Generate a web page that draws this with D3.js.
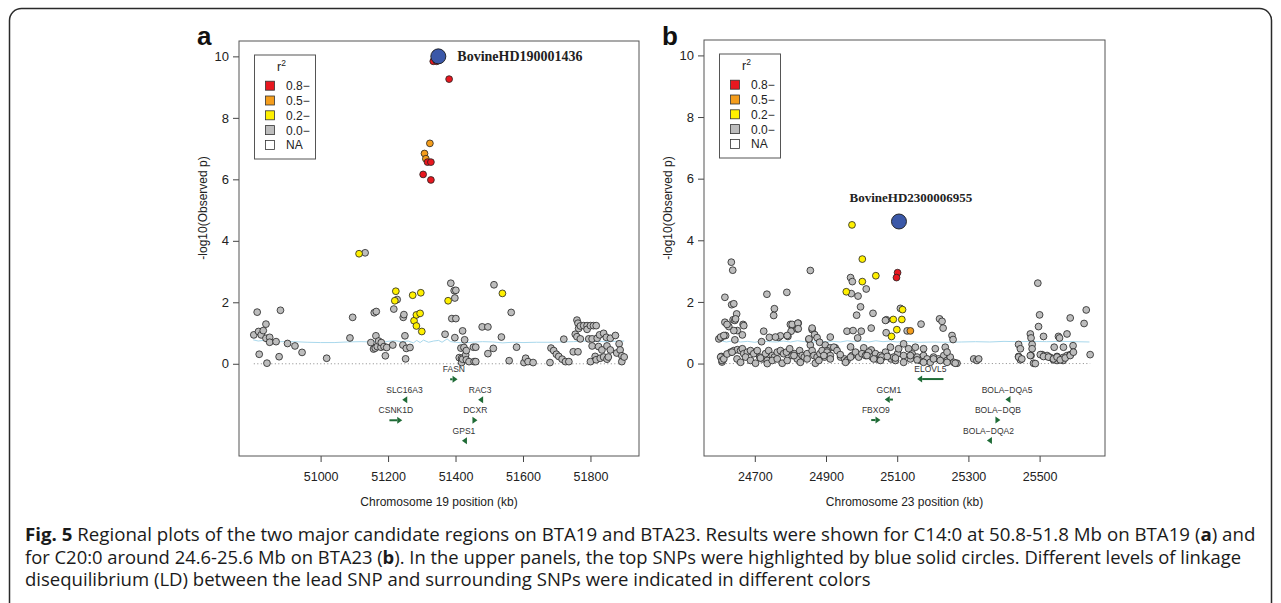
<!DOCTYPE html>
<html>
<head>
<meta charset="utf-8">
<script src="https://cdn.jsdelivr.net/npm/d3@7"></script>
<style>
  body { margin: 0; background: #fff; }
  svg { display: block; font-family: "Liberation Sans", Arial, sans-serif; }
</style>
</head>
<body>
<svg id="fig" width="1281" height="603"></svg>
<script>
// ---- panel a : BTA19, C14:0 ----  [position kb, -log10 p]
const aGray = [[50802,0.94],[50812,1.68],[50816,1.05],[50818,0.31],[50824,0.94],[50830,1.08],[50838,1.29],[50838,0.83],[50841,0.02],[50849,0.86],[50849,0.70],[50868,0.72],[50877,0.23],[50881,1.74],[50902,0.66],[50924,0.58],[50945,0.37],[51018,0.18],[51087,0.84],[51095,1.51],[51132,3.61],[51149,0.69],[51157,0.48],[51159,1.66],[51162,0.51],[51164,0.91],[51165,1.70],[51168,0.56],[51172,0.74],[51179,0.54],[51180,0.69],[51188,0.56],[51192,0.26],[51196,0.53],[51214,0.61],[51217,1.78],[51227,2.09],[51244,0.61],[51245,1.51],[51247,1.60],[51250,0.91],[51252,0.16],[51254,0.50],[51265,0.53],[51369,0.96],[51386,2.62],[51389,1.47],[51396,2.38],[51398,2.14],[51398,0.85],[51401,2.39],[51401,1.47],[51411,0.20],[51416,0.51],[51418,0.18],[51418,0.04],[51421,1.07],[51421,0.15],[51425,0.53],[51427,0.78],[51430,0.29],[51432,0.43],[51432,0.13],[51440,0.07],[51453,0.54],[51455,0.07],[51460,0.54],[51460,0.07],[51479,1.20],[51496,1.20],[51496,0.33],[51512,0.50],[51514,2.57],[51536,0.87],[51559,0.10],[51565,1.67],[51581,0.54],[51603,0.04],[51608,0.18],[51615,0.07],[51630,0.04],[51680,0.04],[51683,0.51],[51691,0.43],[51699,0.31],[51706,0.24],[51716,0.15],[51721,0.80],[51726,0.07],[51736,0.07],[51749,0.39],[51755,0.96],[51760,1.42],[51760,0.88],[51763,1.32],[51763,0.39],[51765,1.15],[51770,1.23],[51770,0.81],[51780,1.24],[51790,1.24],[51790,1.12],[51795,0.81],[51800,1.24],[51800,0.07],[51805,0.81],[51805,0.58],[51809,1.24],[51814,0.24],[51817,1.24],[51817,0.13],[51820,0.83],[51824,0.56],[51827,0.94],[51829,0.18],[51834,0.45],[51839,0.99],[51839,0.22],[51847,0.86],[51849,0.58],[51849,0.15],[51853,0.22],[51859,0.83],[51859,0.45],[51874,0.92],[51878,0.35],[51885,0.65],[51888,0.45],[51893,0.26],[51893,0.07],[51900,0.22]];
const aYellow = [[51114,3.58],[51220,2.05],[51223,2.36],[51273,2.23],[51277,1.40],[51284,1.59],[51284,1.23],[51295,1.64],[51297,2.31],[51300,1.05],[51378,2.05],[51539,2.29]];
const aOrange = [[51324,7.17],[51308,6.84],[51312,6.67]];
const aRed = [[51334,9.84],[51344,9.84],[51381,9.26],[51317,6.56],[51327,6.56],[51304,6.16],[51327,5.98]];
const aLead = [51349, 10.0];
const aLeadName = "BovineHD190001436";
const aRecomb = [[50800,0.78],[50815,0.74],[50830,0.76],[50850,0.73],[50880,0.72],[50920,0.72],[50960,0.70],[51000,0.69],[51040,0.69],[51080,0.71],[51120,0.72],[51150,0.71],[51170,0.74],[51185,0.70],[51200,0.73],[51220,0.75],[51240,0.72],[51260,0.74],[51275,0.68],[51285,0.76],[51295,0.69],[51305,0.77],[51320,0.70],[51335,0.74],[51350,0.76],[51360,0.70],[51375,0.81],[51385,0.72],[51400,0.70],[51420,0.68],[51450,0.70],[51480,0.72],[51510,0.71],[51540,0.68],[51570,0.70],[51600,0.69],[51640,0.70],[51680,0.70],[51720,0.71],[51750,0.72],[51780,0.74],[51810,0.73],[51840,0.72],[51870,0.73],[51900,0.74]];
// gene: name, start kb, end kb, strand, row
const aGenes = [["FASN",51384,51406,1,0],["SLC16A3",51242,51255,-1,1],["RAC3",51467,51479,-1,1],["CSNK1D",51204,51242,1,2],["DCXR",51452,51465,1,2],["GPS1",51419,51431,-1,3]];
const aXTicks = [51000, 51200, 51400, 51600, 51800];

// ---- panel b : BTA23, C20:0 ----
const bGray = [[24634,3.29],[24638,3.03],[24856,3.02],[24969,2.79],[24974,2.66],[24734,2.25],[24790,2.31],[24616,2.15],[24971,2.27],[24990,2.19],[25013,2.42],[24997,1.84],[25032,1.63],[24986,1.57],[24635,1.91],[24641,1.94],[24649,1.61],[24755,1.78],[24753,1.56],[25109,1.79],[25070,1.42],[25069,1.00],[25128,1.06],[25167,1.28],[25219,1.45],[25226,1.37],[25229,1.15],[25254,0.91],[25257,0.78],[25495,2.61],[25500,1.58],[25497,1.20],[25586,1.48],[25631,1.74],[25625,1.30],[25577,0.96],[25553,0.88],[25556,0.83],[25511,0.88],[25474,0.96],[25476,0.83],[25479,0.62],[25479,0.48],[25476,0.26],[25441,0.62],[25446,0.48],[25441,0.23],[25446,0.12],[25483,0.01],[25507,0.29],[25521,0.26],[25530,0.20],[25539,0.12],[25549,0.10],[25558,0.15],[25567,0.20],[25577,0.26],[25586,0.29],[25566,0.10],[25549,0.23],[25541,0.53],[25567,0.53],[25594,0.58],[25642,0.29],[25315,0.15],[25324,0.10],[25329,0.15],
  [24616,1.34],[24639,1.42],[24644,1.40],[24667,1.27],[24651,1.07],[24644,0.77],[24618,0.91],[24606,0.85],[24599,0.80],[24627,1.20],[24725,1.05],[24741,0.85],[24767,0.85],[24772,0.90],[24719,0.71],[24800,1.27],[24809,1.23],[24822,1.31],[24802,1.05],[24793,0.88],[24819,1.12],[24861,1.10],[24868,0.94],[24852,0.78],[24856,0.60],[24875,0.84],[24882,0.69],[24898,0.60],[24912,0.51],[24926,0.51],[24903,0.42],[24959,1.05],[24976,1.07],[24999,1.05],[24989,0.83],[25027,1.15],[25006,0.51],[25027,0.44],[24969,0.54],[25067,1.40],
  [24604,0.86],[24613,0.91],[24641,1.07],[24669,1.23],[24622,1.27],[24646,1.45],[24665,0.93],[24758,0.86],[24791,0.91],[24805,1.27],[24821,1.31],[24822,1.13],[24852,0.80],[24861,1.15],[24912,0.86],
  [24606,0.23],[24611,0.15],[24608,0.05],[24632,0.37],[24641,0.42],[24651,0.45],[24660,0.42],[24665,0.48],[24669,0.32],[24679,0.37],[24688,0.42],[24697,0.32],[24707,0.42],[24714,0.21],[24721,0.15],[24730,0.32],[24735,0.10],[24739,0.42],[24749,0.26],[24755,0.21],[24763,0.37],[24772,0.42],[24781,0.32],[24789,0.37],[24798,0.48],[24805,0.26],[24811,0.32],[24819,0.15],[24826,0.42],[24833,0.26],[24839,0.21],[24847,0.32],[24861,0.42],[24866,0.26],[24875,0.21],[24883,0.32],[24889,0.42],[24896,0.21],[24903,0.37],[24912,0.26],[24922,0.53],[24931,0.42],[24941,0.21],[24952,0.15],[24959,0.10],[24973,0.26],[24983,0.37],[24992,0.21],[25001,0.32],[25011,0.26],[25020,0.37],[25029,0.21],[25039,0.32],[25043,0.15],[25053,0.21],[25060,0.21],[25071,0.26],[25083,0.15],[25095,0.10],[25101,0.32],
  [25104,0.48],[25118,0.64],[25132,0.48],[25142,0.31],[25156,0.21],[25165,0.10],[25174,0.26],[25184,0.15],[25193,0.04],[25202,0.21],[25216,0.15],[25231,0.26],[25240,0.10],[25249,0.21],[25259,0.04],[25268,0.01],[25118,0.26],[25137,0.15],[25151,0.53],[25174,0.48],[25207,0.48],[25235,0.53],[25240,0.37],[25090,0.21],[25081,0.53],[25067,0.37],[25053,0.26],[25057,0.21],
  [24604,0.21],[24608,0.10],[24613,0.15],[24622,0.31],[24636,0.37],[24650,0.15],[24660,0.04],[24674,0.21],[24688,0.10],[24702,0.01],[24716,0.18],[24735,0.00],[24749,0.10],[24763,0.15],[24777,0.01],[24791,0.10],[24810,0.26],[24828,0.04],[24847,0.15],[24870,0.01],[24880,0.10],[24894,0.26],[24912,0.15],[24940,0.29],[24955,0.04],[24969,0.21],[25015,0.26],[25034,0.15],[25053,0.10],[25072,0.23],[25095,0.18],[25118,0.04],[25137,0.26],[25156,0.12],[25174,0.04],[25202,0.15],[25221,0.10],[25240,0.04],[25263,0.01],
  [25441,0.21],[25450,0.15],[25474,0.26],[25488,0.00],[25502,0.29],[25511,0.23],[25525,0.21],[25539,0.15],[25549,0.21],[25558,0.12],[25572,0.18],[25586,0.26],[25595,0.37]];
const bYellow = [[24973,4.50],[25002,3.39],[25040,2.85],[25002,2.66],[24957,2.33],[25115,1.75],[25089,1.43],[25113,1.43],[25099,1.10],[25084,0.88]];
const bOrange = [[25137,1.06]];
const bRed = [[25101,2.95],[25098,2.79]];
const bLead = [25105, 4.61];
const bLeadName = "BovineHD2300006955";
const bRecomb = [[24600,0.75],[24620,0.70],[24640,0.74],[24660,0.70],[24680,0.72],[24700,0.69],[24720,0.73],[24740,0.71],[24760,0.70],[24780,0.73],[24800,0.70],[24820,0.74],[24840,0.71],[24860,0.69],[24880,0.73],[24900,0.70],[24920,0.72],[24940,0.70],[24960,0.74],[24980,0.71],[25000,0.73],[25020,0.70],[25040,0.74],[25060,0.71],[25080,0.73],[25100,0.70],[25120,0.72],[25140,0.71],[25160,0.69],[25200,0.70],[25240,0.69],[25280,0.70],[25320,0.71],[25360,0.70],[25400,0.72],[25440,0.71],[25480,0.72],[25520,0.71],[25560,0.72],[25600,0.71],[25640,0.70]];
const bGenes = [["ELOVL5",25156,25230,-1,0],["GCM1",25065,25088,-1,1],["BOLA\u2212DQA5",25404,25413,-1,1],["FBXO9",25027,25053,1,2],["BOLA\u2212DQB",25376,25390,1,2],["BOLA\u2212DQA2",25352,25361,-1,3]];
const bXTicks = [24700, 24900, 25100, 25300, 25500];

const yTicks = [0, 2, 4, 6, 8, 10];
const legendLabels = ["0.8\u2212", "0.5\u2212", "0.2\u2212", "0.0\u2212", "NA"];
const legendColors = ["#e8171f", "#f49d1c", "#fff000", "#bdbdbd", "#ffffff"];

const captionLines = [
  [["Fig. 5", 1], [" Regional plots of the two major candidate regions on BTA19 and BTA23. Results were shown for C14:0 at 50.8-51.8 Mb on BTA19 (", 0], ["a", 1], [") and", 0]],
  [["for C20:0 around 24.6-25.6 Mb on BTA23 (", 0], ["b", 1], ["). In the upper panels, the top SNPs were highlighted by blue solid circles. Different levels of linkage", 0]],
  [["disequilibrium (LD) between the lead SNP and surrounding SNPs were indicated in different colors", 0]]
];

const svg = d3.select("#fig");
svg.append("rect").attr("width", 1281).attr("height", 603).attr("fill", "#fff");
svg.append("rect").attr("x", 9.5).attr("y", 8.5).attr("width", 1262).attr("height", 640)
  .attr("rx", 12).attr("fill", "none").attr("stroke", "#2a2a2a").attr("stroke-width", 1.5);

function drawPanel(p) {
  const g = svg.append("g");
  const all = [...p.gray, ...p.yellow, ...p.orange, ...p.red, p.lead];
  const ext = d3.extent(all, d => d[0]);
  const pad = (ext[1] - ext[0]) * 0.04;
  const x = d3.scaleLinear().domain([ext[0] - pad, ext[1] + pad]).range([p.left, p.right]);
  const y = d3.scaleLinear().domain([-3, 10.5]).range([456, p.top]);

  // x axis (ticks only, R style)
  const xa = g.append("g").attr("transform", "translate(0,456)")
    .call(d3.axisBottom(x).tickValues(p.xTicks).tickSize(6).tickPadding(10).tickFormat(d3.format("d")));
  xa.select(".domain").remove();
  xa.selectAll("line").attr("stroke", "#444");
  xa.selectAll("text").attr("font-size", 12.5).attr("fill", "#222");

  const ya = g.append("g").attr("transform", `translate(${p.left},0)`)
    .call(d3.axisLeft(y).tickValues(yTicks).tickSize(6).tickPadding(4));
  ya.select(".domain").remove();
  ya.selectAll("line").attr("stroke", "#444");
  ya.selectAll("text").attr("font-size", 13).attr("fill", "#222");
  xa.attr("font-family", null); ya.attr("font-family", null);

  g.append("text").attr("x", (p.left + p.right) / 2).attr("y", 506).attr("text-anchor", "middle")
    .attr("font-size", 12).attr("fill", "#222").text(p.xTitle);
  g.append("text").attr("transform", `translate(${p.left - 32},208) rotate(-90)`).attr("text-anchor", "middle")
    .attr("font-size", 12).attr("fill", "#222").text("-log10(Observed p)");
  g.append("text").attr("x", p.left - 42).attr("y", 45).attr("font-size", 26).attr("font-weight", 700)
    .attr("fill", "#111").text(p.letter);

  // zero reference line
  g.append("line").attr("x1", x(ext[0])).attr("x2", x(ext[1])).attr("y1", y(0)).attr("y2", y(0))
    .attr("stroke", "#888").attr("stroke-width", 1).attr("stroke-dasharray", "1,2.5");

  // recombination-like light blue trace
  g.append("path").datum(p.recomb)
    .attr("d", d3.line().x(d => x(d[0])).y(d => y(d[1])))
    .attr("fill", "none").attr("stroke", "#a9d8ec").attr("stroke-width", 1);

  const layers = [[p.gray, legendColors[3]], [p.yellow, legendColors[2]], [p.orange, legendColors[1]], [p.red, legendColors[0]]];
  layers.forEach(([pts, col]) => {
    g.append("g").selectAll("circle").data(pts).join("circle")
      .attr("cx", d => x(d[0])).attr("cy", d => y(d[1])).attr("r", 3.4)
      .attr("fill", col).attr("stroke", "#222").attr("stroke-width", 0.8);
  });
  g.append("circle").attr("cx", x(p.lead[0])).attr("cy", y(p.lead[1])).attr("r", 7.5)
    .attr("fill", "#3b58a8").attr("stroke", "#1a1a1a").attr("stroke-width", 0.9);

  const lx = x(p.lead[0]), ly = y(p.lead[1]);
  const lab = g.append("text").attr("font-family", "'Liberation Serif', 'Times New Roman', serif")
    .attr("font-weight", 700).attr("fill", "#222").text(p.leadName);
  if (p.labelSide === "right") lab.attr("font-size", 14).attr("x", lx + 19).attr("y", ly + 4.5);
  else lab.attr("font-size", 13).attr("x", lx + 12).attr("y", ly - 19).attr("text-anchor", "middle");

  // genes
  const gg = g.append("g");
  p.genes.forEach(([name, s, e, strand, row]) => {
    const ay = y(0) + 15.5 + row * 20.5;
    const x1 = x(s), x2 = x(e);
    gg.append("text").attr("x", (x1 + x2) / 2).attr("y", ay - 7).attr("text-anchor", "middle")
      .attr("font-size", 8.5).attr("fill", "#333").text(name);
    const tip = strand > 0 ? x2 : x1;
    const base = tip - strand * 5;
    const tail = strand > 0 ? x1 : x2;
    if (Math.abs(tail - tip) > 5) {
      gg.append("line").attr("x1", tail).attr("x2", base).attr("y1", ay).attr("y2", ay)
        .attr("stroke", "#1f6b36").attr("stroke-width", 2);
    }
    gg.append("path").attr("d", `M${tip},${ay}L${base},${ay - 3.5}L${base},${ay + 3.5}Z`).attr("fill", "#1f6b36");
  });

  // frame
  g.append("rect").attr("x", p.left).attr("y", p.top).attr("width", p.right - p.left).attr("height", 456 - p.top)
    .attr("fill", "none").attr("stroke", "#555").attr("stroke-width", 1);

  // legend
  const lg = g.append("g").attr("transform", `translate(${p.left + 15.5},${p.top + 14})`);
  lg.append("rect").attr("width", 61).attr("height", 104).attr("fill", "#fff").attr("stroke", "#555");
  const tt = lg.append("text").attr("x", 27).attr("y", 16).attr("font-size", 12.5).attr("fill", "#222").attr("text-anchor", "middle");
  tt.append("tspan").text("r");
  tt.append("tspan").attr("dy", -5).attr("font-size", 8.5).text("2");
  legendLabels.forEach((t, i) => {
    const ry = 30.7 + i * 14.8;
    lg.append("rect").attr("x", 11).attr("y", ry - 4.5).attr("width", 9).attr("height", 9)
      .attr("fill", legendColors[i]).attr("stroke", "#333").attr("stroke-width", 0.8);
    lg.append("text").attr("x", 31.5).attr("y", ry + 4.5).attr("font-size", 12).attr("fill", "#222").text(t);
  });
}

drawPanel({ left: 239, right: 639, top: 41, gray: aGray, yellow: aYellow, orange: aOrange, red: aRed,
  lead: aLead, leadName: aLeadName, labelSide: "right", recomb: aRecomb, genes: aGenes,
  xTicks: aXTicks, xTitle: "Chromosome 19 position (kb)", letter: "a" });
drawPanel({ left: 704, right: 1105, top: 40, gray: bGray, yellow: bYellow, orange: bOrange, red: bRed,
  lead: bLead, leadName: bLeadName, labelSide: "above", recomb: bRecomb, genes: bGenes,
  xTicks: bXTicks, xTitle: "Chromosome 23 position (kb)", letter: "b" });

// caption, each line stretched to the width it has in the figure
const capY = [541, 563.5, 586];
const capW = [1231, 1217, 846];
captionLines.forEach((parts, i) => {
  const t = svg.append("text").attr("x", 0).attr("y", 0)
    .attr("font-family", "'Open Sans', 'Noto Sans', sans-serif").attr("font-size", 18).attr("fill", "#1a1a1a");
  parts.forEach(([s, b]) => t.append("tspan").attr("font-weight", b ? 700 : 400).text(s));
  const w = t.node().getComputedTextLength();
  t.attr("transform", `translate(25,${capY[i]}) scale(${capW[i] / w},1)`);
});
</script>
</body>
</html>
